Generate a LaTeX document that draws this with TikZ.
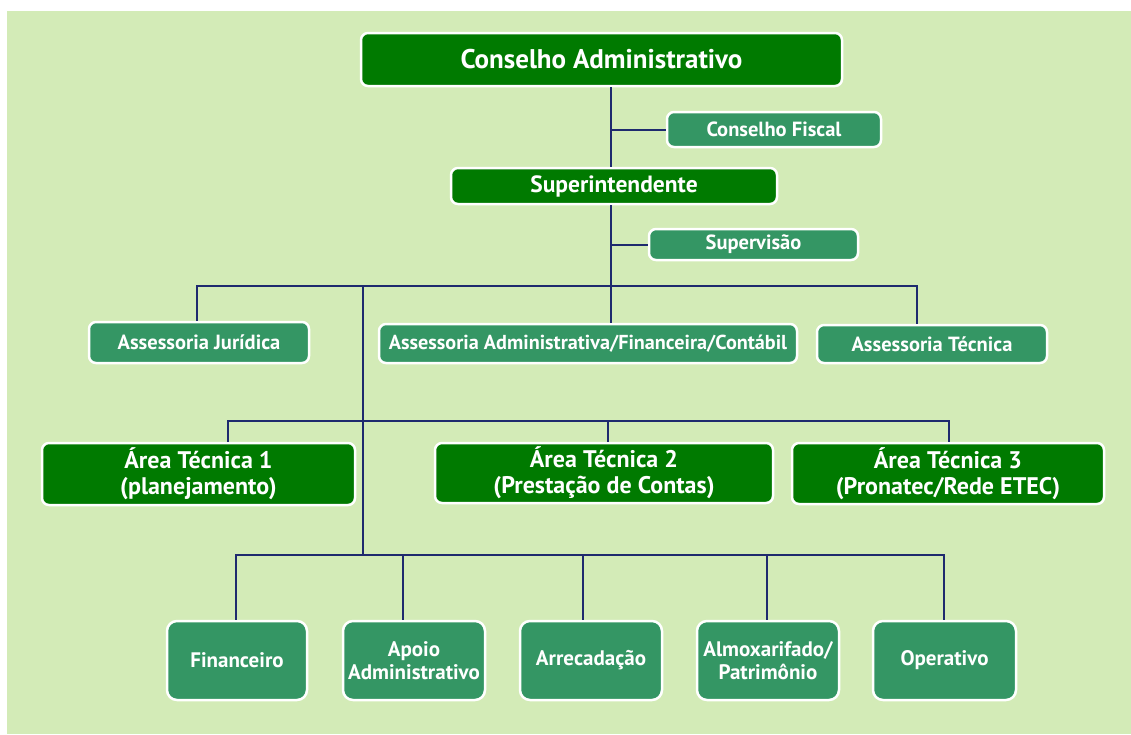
\documentclass[tikz,border=0pt]{standalone}
\usepackage{fontspec}
\setmainfont{PT Sans}
\definecolor{bg}{RGB}{211,235,183}
\definecolor{dkg}{RGB}{0,122,0}
\definecolor{mdg}{RGB}{52,150,100}
\definecolor{ln}{RGB}{30,42,110}
\begin{document}
\begin{tikzpicture}[x=1pt,y=-1pt,
  box/.style={draw=white,line width=2.5pt,rounded corners=7pt,text=white,font=\bfseries,align=center,inner sep=0pt,anchor=center},
  big/.style={box,fill=dkg},
  small/.style={box,fill=mdg},
  conn/.style={draw=ln,line width=2pt}]
\useasboundingbox (0,0) rectangle (1131,734);
\fill[white] (0,0) rectangle (1131,734);
\fill[bg] (7,11) rectangle (1131,734);
% nodes
\node[big,minimum width=481pt,minimum height=53pt,font=\bfseries\fontsize{27}{30}\selectfont] (ca) at (601.5,59.5) {Conselho Administrativo};
\node[small,minimum width=214pt,minimum height=35pt,font=\bfseries\fontsize{20.5}{24}\selectfont] (cf) at (774,129.5) {Conselho Fiscal};
\node[big,minimum width=326pt,minimum height=36pt,font=\bfseries\fontsize{23.5}{26}\selectfont] (sup) at (614,186) {Superintendente};
\node[small,minimum width=209pt,minimum height=31pt,font=\bfseries\fontsize{20.5}{24}\selectfont] (sv) at (753.5,244.5) {Supervisão};
\node[small,minimum width=220pt,minimum height=41pt,font=\bfseries\fontsize{20.5}{24}\selectfont] (aj) at (199,342.5) {Assessoria Jurídica};
\node[small,minimum width=418pt,minimum height=39pt,font=\bfseries\fontsize{20.2}{24}\selectfont] (aa) at (588,343.5) {Assessoria Administrativa/Financeira/Contábil};
\node[small,minimum width=230pt,minimum height=38pt,font=\bfseries\fontsize{20.5}{24}\selectfont] (at) at (932,344) {Assessoria Técnica};
\node[big,minimum width=313pt,minimum height=62pt,font=\bfseries\fontsize{24}{26}\selectfont] (t1) at (198.5,474) {Área Técnica 1\\(planejamento)};
\node[big,minimum width=338pt,minimum height=60pt,font=\bfseries\fontsize{24}{26}\selectfont] (t2) at (604,473) {Área Técnica 2\\(Prestação de Contas)};
\node[big,minimum width=312pt,minimum height=61pt,font=\bfseries\fontsize{24}{26}\selectfont] (t3) at (948,473.5) {Área Técnica 3\\(Pronatec/Rede ETEC)};
\tikzset{bot/.style={small,minimum width=142pt,minimum height=79pt,rounded corners=10pt,font=\bfseries\fontsize{21}{23}\selectfont}}
\node[bot,minimum width=140pt] (fi) at (237,660.5) {Financeiro};
\node[bot] (ap) at (414,660.5) {Apoio\\Administrativo};
\node[bot] (ar) at (591,660.5) {Arrecadação};
\node[bot] (al) at (768,660.5) {Almoxarifado/\\Patrimônio};
\node[bot,minimum width=143pt] (op) at (944.5,660.5) {Operativo};
% junctions
\coordinate (j1) at (611,286);
\coordinate (bL) at (197,286);
\coordinate (bR) at (917,286);
\coordinate (k1) at (363,286);
\coordinate (k3) at (363,555);
\coordinate (aL) at (228,421);
\coordinate (aM) at (608,421);
\coordinate (aR) at (949,421);
\coordinate (cL) at (236,555);
\coordinate (c2) at (403,555);
\coordinate (c3) at (583,555);
\coordinate (c4) at (767,555);
\coordinate (cR) at (944,555);
% connectors
\draw[conn] (ca.south -| j1) -- (sup.north -| j1);
\draw[conn] (sup.south -| j1) -- (j1);
\draw[conn] (cf.west) -- (cf.west -| j1);
\draw[conn] (sv.west) -- (sv.west -| j1);
\draw[conn] (aj.north -| bL) -- (bL) -- (bR) -- (at.north -| bR);
\draw[conn] (j1) -- (aa.north -| j1);
\draw[conn] (k1) -- (k3);
\draw[conn] (t1.north -| aL) -- (aL) -- (aR) -- (t3.north -| aR);
\draw[conn] (aM) -- (t2.north -| aM);
\draw[conn] (fi.north -| cL) -- (cL) -- (cR) -- (op.north -| cR);
\draw[conn] (ap.north -| c2) -- (c2);
\draw[conn] (ar.north -| c3) -- (c3);
\draw[conn] (al.north -| c4) -- (c4);
\end{tikzpicture}
\end{document}
